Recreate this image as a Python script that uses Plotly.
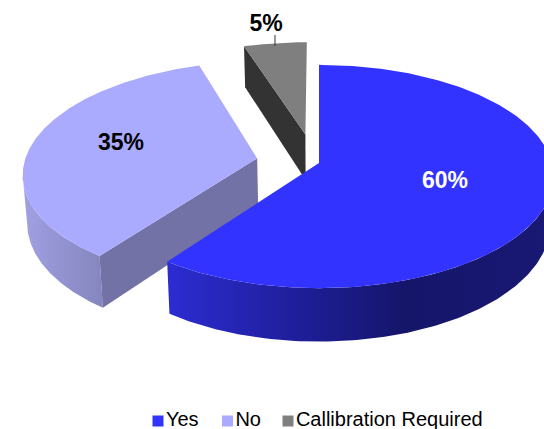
import numpy as np
import plotly.graph_objects as go

# data
categories = ["Yes", "No", "Callibration Required"]
values = [60, 35, 5]
labels = ["60%", "35%", "5%"]

# style
top_colors = ["#3333FF", "#AAAAFF", "#7F7F7F"]
face_colors = [None, "#7272A6", "#333333"]
side_scales = [
    [[0, "#2C2CD2"], [0.35, "#1E1E98"], [0.62, "#15156A"], [1, "#191975"]],
    [[0, "#A0A0E4"], [1, "#8585BE"]],
    None,
]
pulls = [0.0, 0.27, 0.27]
nudges = [0.0, 0.0, -0.018]
CX, CY, A, B, P, H, SHRINK = 319, 163, 233, 110, 0.121, 47, 0.015


def project(u, v, z):
    f = 1 / (1 - P * v)
    return CX + A * u * f * (1 - SHRINK * z), CY + (B * v + H * z) * f


fig = go.Figure()
total = sum(values)
bounds = np.cumsum([0] + values) / total * 2 * np.pi
draw_order = [2, 1, 0]


def poly(name, xs, ys, color=None, scale=None):
    kw = dict(fillcolor=color) if color else dict(
        fillgradient=dict(type="horizontal", colorscale=scale))
    fig.add_trace(go.Scatter(x=xs, y=ys, mode="lines", fill="toself", line=dict(width=0),
                             hoverinfo="skip", showlegend=False, name=name, **kw))


for i in draw_order:
    t0, t1 = bounds[i], bounds[i + 1]
    mid = (t0 + t1) / 2
    ou, ov = pulls[i] * np.sin(mid) + nudges[i], -pulls[i] * np.cos(mid)
    th = np.linspace(t0, t1, 240)
    au, av = ou + np.sin(th), ov - np.cos(th)
    name = categories[i]
    # outer curved wall: only the arc in front of the silhouette tangent
    if side_scales[i]:
        tx, ty = project(au, av, 0)
        bx, by = project(au, av, 1)
        if np.sin(mid) < 0:
            k = np.argmin(tx)
            sel = np.arange(0, k + 1)
        else:
            k = np.argmax(tx)
            sel = np.arange(k, len(th))
        poly(name, np.r_[tx[sel], bx[sel][::-1]], np.r_[ty[sel], by[sel][::-1]], scale=side_scales[i])
    # radial wall
    if face_colors[i]:
        ru = np.array([ou, au[0], au[0], ou])
        rv = np.array([ov, av[0], av[0], ov])
        rz = np.array([0, 0, 1, 1])
        rx, ry = project(ru, rv, rz)
        poly(name, rx, ry, color=face_colors[i])
    # top face
    x, y = project(np.r_[ou, au], np.r_[ov, av], 0)
    poly(name, x, y, color=top_colors[i])

# leader line of the smallest slice
fig.add_trace(go.Scatter(x=[275, 275], y=[35, 46], mode="lines", line=dict(color="#333333", width=1),
                         hoverinfo="skip", showlegend=False))

# data labels
fig.add_trace(go.Scatter(
    x=[445, 121, 266], y=[182, 144, 25], mode="text", text=labels, hoverinfo="skip", showlegend=False,
    textposition="middle center",
    textfont=dict(family="Liberation Sans", size=23, color=["#FFFFFF", "#000000", "#000000"], weight="bold"),
))

# legend
for name, color, lx in zip(categories, top_colors, [158, 227.5, 288]):
    fig.add_trace(go.Scatter(
        x=[lx], y=[421], mode="markers+text", text=[name], textposition="middle right",
        marker=dict(symbol="square", size=11, color=color),
        textfont=dict(family="Liberation Sans", size=20, color="#000000"),
        hoverinfo="skip", showlegend=False, cliponaxis=False,
    ))

fig.update_layout(
    width=544, height=429, margin=dict(l=0, r=0, t=0, b=0),
    paper_bgcolor="white", plot_bgcolor="white", showlegend=False,
    xaxis=dict(range=[0, 544], visible=False, fixedrange=True),
    yaxis=dict(range=[429, 0], visible=False, fixedrange=True),
)
fig.write_html("out.html", config=dict(displayModeBar=False),
               post_script="document.body.style.margin='0';document.documentElement.style.overflow='hidden';")
